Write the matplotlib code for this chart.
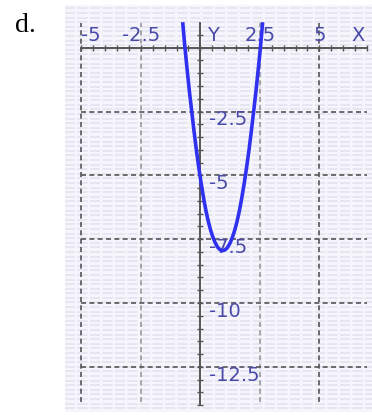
import numpy as np
import matplotlib
matplotlib.use("Agg")
import matplotlib.pyplot as plt

# points (x, y)
curve_x = [-0.74, -0.66, -0.56, -0.46, -0.36, -0.26, -0.16, -0.06, 0.04, 0.14,
           0.24, 0.34, 0.44, 0.54, 0.64, 0.74, 0.84, 0.94,
           1.04, 1.14, 1.24, 1.34, 1.44, 1.54, 1.64, 1.74, 1.84, 1.94,
           2.04, 2.14, 2.24, 2.34, 2.44, 2.54, 2.62]
curve_y = [1.00, 0.15, -0.80, -1.70, -2.50, -3.30, -4.05, -4.72, -5.34, -5.90,
           -6.40, -6.82, -7.17, -7.45, -7.67, -7.83, -7.92, -7.95,
           -7.92, -7.83, -7.67, -7.45, -7.17, -6.82, -6.40, -5.90, -5.34, -4.72,
           -4.05, -3.30, -2.50, -1.70, -0.80, 0.15, 1.00]

x_grid = [-5, -2.5, 2.5, 5]
y_grid = [-2.5, -5, -7.5, -10, -12.5]
x_labels = ["-5", "-2.5", "2.5", "5"]
y_labels = ["-2.5", "-5", "-7.5", "-10", "-12.5"]

label_color = "#4a4aa8"

fig = plt.figure(figsize=(3.72, 4.15), dpi=100)
fig.text(15 / 372, 1 - 32 / 415, "d.", family="Liberation Serif",
         fontsize=20, va="baseline", ha="left")

ax = fig.add_axes([65 / 372, 1 - 412 / 415, 307 / 372, 407 / 415])
ax.set_xlim(-5.685, 7.214)
ax.set_ylim(-14.27, 1.673)
ax.set_facecolor("#f5f5fb")

# faint striped paper background
for yy in np.arange(-14.3, 1.7, 0.18):
    ax.axhline(yy, color="#e3e3f2", lw=1.2, ls=(0, (6, 1.5)), zorder=0)

# dashed grid
for gx in x_grid:
    c = "#999999" if abs(gx) == 2.5 else "#555555"
    ax.vlines(gx, -13.88, 0.98, colors=c, lw=1.2, linestyles=(0, (3, 2)), zorder=1)
ax.hlines(y_grid, -5, 7.0, colors="#555555", lw=1.2, linestyles=(0, (3, 2)), zorder=1)

# axes through the origin
for s in ["top", "right"]:
    ax.spines[s].set_visible(False)
ax.spines["left"].set_position(("data", 0))
ax.spines["bottom"].set_position(("data", 0))
ax.spines["left"].set_bounds(-14.0, 0.98)
ax.spines["bottom"].set_bounds(-5, 7.0)
for s in ["left", "bottom"]:
    ax.spines[s].set_color("#555555")
    ax.spines[s].set_linewidth(1.4)
    ax.spines[s].set_zorder(2)
ax.set_xticks([])
ax.set_yticks([])
ax.set_xticks(np.arange(-5, 7.01, 0.5), minor=True)
ax.set_yticks(np.arange(-14, 1.0, 0.5), minor=True)
ax.tick_params(which="minor", direction="inout", length=5, width=1,
               color="#555555", labelbottom=False, labelleft=False)

# labels
fs = 14
for gx, lab in zip(x_grid, x_labels):
    ha = "left" if gx == -5 else "center"
    ax.text(gx, 0.12, lab, color=label_color, fontsize=fs, ha=ha, va="bottom")
ax.text(0.3, 0.12, "Y", color=label_color, fontsize=fs, ha="left", va="bottom")
ax.text(6.65, 0.12, "X", color=label_color, fontsize=fs, ha="center", va="bottom")
for gy, lab in zip(y_grid, y_labels):
    ax.text(0.38, gy + 0.05, lab, color=label_color, fontsize=fs, ha="left", va="top")

ax.plot(curve_x, curve_y, color="#3030f0", lw=2.6, solid_capstyle="butt", zorder=3)

fig.savefig("out.png", dpi=100)
